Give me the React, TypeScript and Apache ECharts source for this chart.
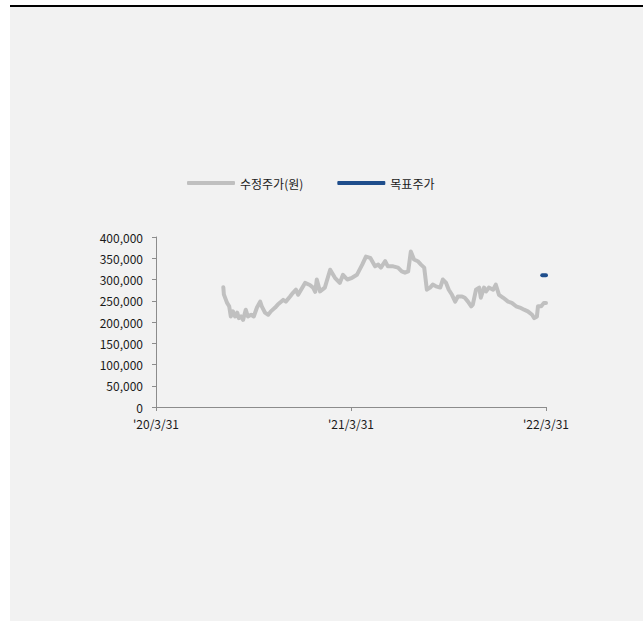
import React, { useEffect, useRef } from "react";
import * as echarts from "echarts";

const startDate = "2020-03-31";
const xTickLabels = ["'20/3/31", "'21/3/31", "'22/3/31"];
const seriesNames = ["수정주가(원)", "목표주가"];

const priceDates = [
  "2020-08-04", "2020-08-05", "2020-08-11", "2020-08-15", "2020-08-18", "2020-08-22", "2020-08-26", "2020-08-30",
  "2020-09-02", "2020-09-06", "2020-09-10", "2020-09-15", "2020-09-19", "2020-09-25", "2020-09-30", "2020-10-06",
  "2020-10-12", "2020-10-15", "2020-10-21", "2020-10-27", "2020-11-01", "2020-11-09", "2020-11-14", "2020-11-24",
  "2020-11-29", "2020-12-07", "2020-12-12", "2020-12-18", "2020-12-22", "2021-01-04", "2021-01-13", "2021-01-19",
  "2021-01-23", "2021-01-26", "2021-02-01", "2021-02-10", "2021-02-20", "2021-03-01", "2021-03-10", "2021-03-16",
  "2021-03-24", "2021-04-02", "2021-04-11", "2021-04-21", "2021-04-28", "2021-05-06", "2021-05-15", "2021-05-21",
  "2021-05-26", "2021-06-03", "2021-06-08", "2021-06-18", "2021-06-27", "2021-07-04", "2021-07-10", "2021-07-16",
  "2021-07-21", "2021-07-27", "2021-08-03", "2021-08-09", "2021-08-15", "2021-08-20", "2021-08-26", "2021-08-31",
  "2021-09-06", "2021-09-14", "2021-09-19", "2021-09-25", "2021-09-30", "2021-10-06", "2021-10-12", "2021-10-17",
  "2021-10-25", "2021-10-30", "2021-11-05", "2021-11-11", "2021-11-14", "2021-11-20", "2021-11-26", "2021-11-29",
  "2021-12-05", "2021-12-09", "2021-12-14", "2021-12-22", "2021-12-27", "2022-01-02", "2022-01-10", "2022-01-19",
  "2022-01-26", "2022-02-03", "2022-02-10", "2022-02-18", "2022-02-25", "2022-03-05", "2022-03-09", "2022-03-14",
  "2022-03-16", "2022-03-22", "2022-03-27", "2022-03-31"
];
const priceValues = [
  282000, 265000, 245000, 237000, 213000, 225000, 213000, 222000,
  209000, 213000, 205000, 229000, 213000, 217000, 213000, 234000,
  248000, 237000, 222000, 217000, 225000, 234000, 241000, 252000,
  248000, 260000, 268000, 276000, 264000, 292000, 287000, 281000,
  271000, 300000, 272000, 281000, 323000, 304000, 292000, 311000,
  300000, 304000, 311000, 335000, 354000, 351000, 331000, 335000,
  328000, 343000, 331000, 331000, 328000, 319000, 316000, 319000,
  366000, 347000, 343000, 335000, 328000, 276000, 281000, 288000,
  284000, 281000, 300000, 292000, 276000, 264000, 248000, 260000,
  260000, 257000, 248000, 237000, 241000, 276000, 281000, 257000,
  281000, 272000, 281000, 276000, 288000, 264000, 257000, 248000,
  245000, 237000, 234000, 229000, 225000, 217000, 209000, 213000,
  237000, 237000, 245000, 245000
];

const targetDates = ["2022-03-24", "2022-03-31"];
const targetValues = [310000, 310000];

const DAY = 86400000;
const dayOffset = (d: string) => Math.round((Date.parse(d) - Date.parse(startDate)) / DAY);

export default function App() {
  const ref = useRef<HTMLDivElement>(null);
  useEffect(() => {
    if (!ref.current) return;
    const chart = echarts.init(ref.current, undefined, { renderer: "svg" });
    const font = "'Noto Sans CJK KR', 'Noto Sans', sans-serif";
    chart.setOption({
      animation: false,
      backgroundColor: "transparent",
      textStyle: { fontFamily: font },
      legend: {
        left: 182,
        top: 172,
        itemWidth: 48,
        itemHeight: 4,
        itemGap: 34,
        icon: "roundRect",
        textStyle: { fontFamily: font, fontSize: 12, color: "#1a1a1a" },
        data: seriesNames,
      },
      grid: { left: 156, right: 97, top: 237, bottom: 215, containLabel: false },
      xAxis: {
        type: "value",
        min: 0,
        max: 730,
        interval: 365,
        splitLine: { show: false },
        axisLine: { show: true, lineStyle: { color: "#8c8c8c", width: 1 } },
        axisTick: { show: true, inside: false, length: 4, lineStyle: { color: "#8c8c8c" } },
        axisLabel: {
          margin: 10,
          fontSize: 12,
          lineHeight: 12,
          color: "#1a1a1a",
          fontFamily: font,
          formatter: (v: number) => xTickLabels[Math.round(v / 365)] ?? "",
        },
      },
      yAxis: {
        type: "value",
        min: 0,
        max: 400000,
        interval: 50000,
        splitLine: { show: false },
        axisLine: { show: true, lineStyle: { color: "#8c8c8c", width: 1 } },
        axisTick: { show: true, inside: false, length: 4, lineStyle: { color: "#8c8c8c" } },
        axisLabel: {
          margin: 13,
          fontSize: 12,
          lineHeight: 12,
          color: "#1a1a1a",
          fontFamily: font,
          formatter: (v: number) => v.toLocaleString("en-US"),
        },
      },
      series: [
        {
          name: seriesNames[0],
          type: "line",
          showSymbol: false,
          symbol: "none",
          data: priceDates.map((d, i) => [dayOffset(d), priceValues[i]]),
          lineStyle: { color: "#c0c0c0", width: 4, join: "round", cap: "round" },
          itemStyle: { color: "#c0c0c0" },
        },
        {
          name: seriesNames[1],
          type: "line",
          showSymbol: false,
          symbol: "none",
          data: targetDates.map((d, i) => [dayOffset(d), targetValues[i]]),
          lineStyle: { color: "#1f4e8c", width: 4, cap: "round" },
          itemStyle: { color: "#1f4e8c" },
        },
      ],
    });
    return () => chart.dispose();
  }, []);

  return (
    <div style={{ position: "fixed", left: 0, top: 0, width: 643, height: 622, background: "#ffffff" }}>
      <div style={{ position: "absolute", left: 10, top: 5, width: 633, height: 2, background: "#000000" }} />
      <div style={{ position: "absolute", left: 10, top: 7, width: 633, height: 614, background: "#f2f2f2" }} />
      <div ref={ref} style={{ position: "absolute", left: 0, top: 0, width: 643, height: 622 }} />
    </div>
  );
}
